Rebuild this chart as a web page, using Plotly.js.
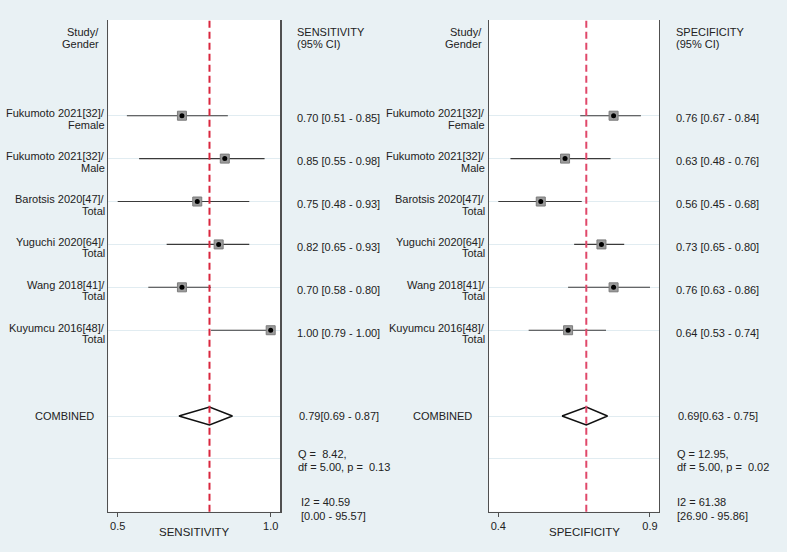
<!DOCTYPE html>
<html>
<head>
<meta charset="utf-8">
<script src="https://cdn.plot.ly/plotly-3.0.1.min.js"></script>
<style>html,body{margin:0;padding:0;background:#e9f1f4;}#chart{width:787px;height:552px;}</style>
</head>
<body>
<div id="chart"></div>
<script>
// ---- data ----
const studyRows = [1, 2, 3, 4, 5, 6];
const studies = ["Fukumoto 2021[32]/", "Fukumoto 2021[32]/", "Barotsis 2020[47]/", "Yuguchi 2020[64]/", "Wang 2018[41]/", "Kuyumcu 2016[48]/"];
const groups = ["Female", "Male", "Total", "Total", "Total", "Total"];

const sensEst = [0.71, 0.85, 0.76, 0.83, 0.71, 1.00];
const sensLo  = [0.53, 0.57, 0.50, 0.66, 0.60, 0.805];
const sensHi  = [0.86, 0.98, 0.93, 0.93, 0.805, 1.00];
const sensText = ["0.70 [0.51 - 0.85]", "0.85 [0.55 - 0.98]", "0.75 [0.48 - 0.93]", "0.82 [0.65 - 0.93]", "0.70 [0.58 - 0.80]", "1.00 [0.79 - 1.00]"];

const specEst = [0.78, 0.62, 0.54, 0.74, 0.78, 0.63];
const specLo  = [0.67, 0.44, 0.40, 0.65, 0.63, 0.50];
const specHi  = [0.87, 0.77, 0.675, 0.815, 0.90, 0.755];
const specText = ["0.76 [0.67 - 0.84]", "0.63 [0.48 - 0.76]", "0.56 [0.45 - 0.68]", "0.73 [0.65 - 0.80]", "0.76 [0.63 - 0.86]", "0.64 [0.53 - 0.74]"];

const combinedRow = 8, hetRow = 9, i2Row = 10;
const sensCombined = [0.70, 0.80, 0.875];   // lower, estimate, upper (as drawn)
const specCombined = [0.61, 0.69, 0.76];
const combinedText = ["0.79[0.69 - 0.87]", "0.69[0.63 - 0.75]"];
const hetQ  = ["Q =  8.42,", "Q = 12.95,"];
const hetDf = ["df = 5.00, p =  0.13", "df = 5.00, p =  0.02"];
const i2Val = ["I2 = 40.59", "I2 = 61.38"];
const i2Ci  = ["[0.00 - 95.57]", "[26.90 - 95.86]"];
const colHeaders = [["SENSITIVITY", "(95% CI)"], ["SPECIFICITY", "(95% CI)"]];
const axisTitles = ["SENSITIVITY", "SPECIFICITY"];
const tickVals = [[0.5, 1.0], [0.4, 0.9]];
const tickText = [["0.5", "1.0"], ["0.4", "0.9"]];

// ---- layout helpers ----
const W = 787, H = 552;
const px = v => v / W;
const FONT = "Liberation Sans, Arial, sans-serif";
const TXT = "#222";

const panels = [
  {est: sensEst, lo: sensLo, hi: sensHi, txt: sensText, comb: sensCombined,
   xa: "x", ya: "y", labelRight: 106.5, headerRight: 101, valueLeft: 295, combX: 64, titleX: 194.7,
   refColor: "#d9263e"},
  {est: specEst, lo: specLo, hi: specHi, txt: specText, comb: specCombined,
   xa: "x2", ya: "y2", labelRight: 487, headerRight: 484, valueLeft: 674, combX: 442, titleX: 584.7,
   refColor: "#e0486a"}
];

const traces = [];
const annotations = [];
const shapes = [];

function ann(text, x, y, yref, xanchor, yshift, extra) {
  return Object.assign({
    text: text, x: x, y: y, xref: "paper", yref: yref, xanchor: xanchor, yanchor: "middle",
    yshift: yshift, showarrow: false, font: {family: FONT, size: 11, color: TXT}
  }, extra || {});
}

panels.forEach((p, k) => {
  // diamond for combined estimate
  const d = 0.21;
  traces.push({
    type: "scatter", mode: "lines", xaxis: p.xa, yaxis: p.ya,
    x: [p.comb[0], p.comb[1], p.comb[2], p.comb[1], p.comb[0]],
    y: [combinedRow, combinedRow - d, combinedRow, combinedRow + d, combinedRow],
    fill: "toself", fillcolor: "#ffffff", line: {color: "#111", width: 1.5},
    hoverinfo: "skip", showlegend: false
  });
  // CI lines + squares
  traces.push({
    type: "scatter", mode: "markers", xaxis: p.xa, yaxis: p.ya,
    x: p.est, y: studyRows,
    error_x: {type: "data", symmetric: false,
      array: p.hi.map((h, i) => h - p.est[i]),
      arrayminus: p.lo.map((l, i) => p.est[i] - l),
      width: 0, thickness: 1.1, color: "#3a3a3a"},
    marker: {symbol: "square", size: 9, color: "#9c9c9c", line: {color: "#7b7b7b", width: 1}},
    showlegend: false
  });
  traces.push({
    type: "scatter", mode: "markers", xaxis: p.xa, yaxis: p.ya,
    x: p.est, y: studyRows,
    marker: {symbol: "circle", size: 5, color: "#000"},
    showlegend: false, hoverinfo: "skip"
  });
  // reference dashed line at combined estimate
  shapes.push({type: "line", xref: p.xa, yref: p.ya + " domain", x0: p.comb[1], x1: p.comb[1], y0: 0, y1: 1,
    line: {color: p.refColor, width: 2, dash: "7px,4px"}, layer: "above"});

  // study labels
  studyRows.forEach((r, i) => {
    annotations.push(ann(studies[i], px(p.labelRight), r, p.ya, "right", 2.5));
    annotations.push(ann(groups[i], px(p.labelRight), r, p.ya, "right", -9));
    annotations.push(ann(p.txt[i], px(p.valueLeft), r, p.ya, "left", -2.7));
  });
  // headers
  annotations.push(ann("Study/", px(p.headerRight), -0.82, p.ya, "right", 5.5));
  annotations.push(ann("Gender", px(p.headerRight), -0.82, p.ya, "right", -6.2));
  annotations.push(ann(colHeaders[k][0], px(p.valueLeft), -0.82, p.ya, "left", 5.5));
  annotations.push(ann(colHeaders[k][1], px(p.valueLeft), -0.82, p.ya, "left", -6.2));
  // combined
  annotations.push(ann("COMBINED", px(p.combX), combinedRow, p.ya, "center", 0.5));
  annotations.push(ann(combinedText[k], px(p.valueLeft + 2), combinedRow, p.ya, "left", 0));
  // heterogeneity
  annotations.push(ann(hetQ[k], px(p.valueLeft + 1), hetRow, p.ya, "left", 5));
  annotations.push(ann(hetDf[k], px(p.valueLeft + 1), hetRow, p.ya, "left", -7.8));
  annotations.push(ann(i2Val[k], px(p.valueLeft + (k === 0 ? 4 : 1)), i2Row, p.ya, "left", 0));
  annotations.push(ann(i2Ci[k], px(p.valueLeft + (k === 0 ? 4 : 1)), i2Row, p.ya, "left", -13.8));
  // axis title
  annotations.push(ann(axisTitles[k], px(p.titleX), 1 - 532 / H, "paper", "center", 0, {font: {family: FONT, size: 11.5, color: TXT}}));
});

const yBase = {
  range: [10.23, -1.231], domain: [1 - 511.7 / H, 1 - 20 / H],
  showline: true, mirror: true, linecolor: "#505050", linewidth: 1.3,
  showgrid: true, gridcolor: "#e1ecf1", gridwidth: 1,
  tickvals: [1, 2, 3, 4, 5, 6, 8, 9], showticklabels: false, ticks: "", zeroline: false, fixedrange: true
};
const xBase = {
  showline: true, mirror: false, linecolor: "#505050", linewidth: 1.3,
  showgrid: false, zeroline: false, ticks: "outside", ticklen: 4, tickcolor: "#505050", tickwidth: 1,
  tickfont: {family: FONT, size: 11, color: TXT}, fixedrange: true
};

const layout = {
  width: W, height: H,
  margin: {l: 0, r: 0, t: 0, b: 0},
  paper_bgcolor: "#e9f1f4", plot_bgcolor: "#ffffff",
  showlegend: false,
  font: {family: FONT, size: 11, color: TXT},
  xaxis: Object.assign({}, xBase, {domain: [108.3 / W, 280.3 / W], range: [0.4693, 1.0314], anchor: "y",
    tickvals: tickVals[0], ticktext: tickText[0]}),
  xaxis2: Object.assign({}, xBase, {domain: [489 / W, 659 / W], range: [0.3693, 0.9297], anchor: "y2",
    tickvals: tickVals[1], ticktext: tickText[1]}),
  yaxis: Object.assign({}, yBase, {anchor: "x"}),
  yaxis2: Object.assign({}, yBase, {anchor: "x2"}),
  annotations: annotations,
  shapes: shapes
};

Plotly.newPlot("chart", traces, layout, {displayModeBar: false, staticPlot: true});
</script>
</body>
</html>
